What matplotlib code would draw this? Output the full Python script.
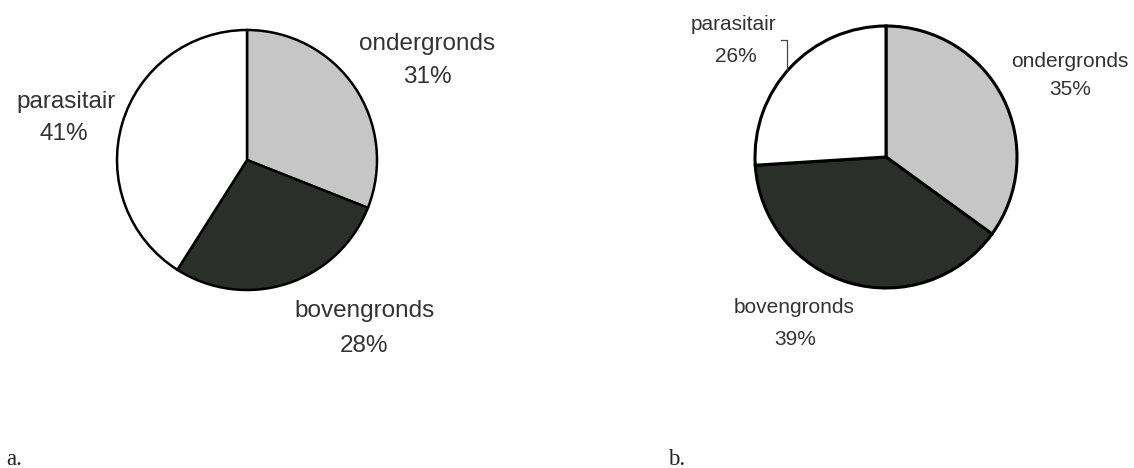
import matplotlib
matplotlib.use("Agg")
import matplotlib.pyplot as plt

# data
categories = ["ondergronds", "bovengronds", "parasitair"]
shares_a = [31, 28, 41]
shares_b = [35, 39, 26]
panel_labels = ["a.", "b."]

W, H = 1134, 468
slice_colors = ["#c6c6c6", "#2c2e2c", "#ffffff"]
text_color = "#333333"


def py(y):
    # pixel row (from top) -> data y
    return H - y


fig = plt.figure(figsize=(W / 100, H / 100), dpi=100)
ax = fig.add_axes([0, 0, 1, 1])
ax.set_xlim(0, W)
ax.set_ylim(0, H)
ax.set_aspect("equal")
ax.axis("off")

wedge_style = dict(edgecolor="black", linewidth=1.8, antialiased=True)

ax.pie(shares_a, colors=slice_colors, startangle=90, counterclock=False,
       center=(247, py(160)), radius=130, wedgeprops=wedge_style, frame=True)
ax.pie(shares_b, colors=slice_colors, startangle=90, counterclock=False,
       center=(886, py(157)), radius=131, wedgeprops=dict(wedge_style, linewidth=2.2),
       frame=True)
ax.set_xlim(0, W)
ax.set_ylim(0, H)
ax.axis("off")

# label spots: (name x, name baseline, pct x, pct baseline) in pixels
spots_a = [(427, 50, 427, 83), (365, 317, 364, 352), (66, 108, 64, 140)]
spots_b = [(1070, 67, 1070, 95), (794, 313, 795, 345), (734, 30, 736, 62)]

for shares, spots, fs in [(shares_a, spots_a, 17.5), (shares_b, spots_b, 15)]:
    for name, val, (nx, ny, vx, vy) in zip(categories, shares, spots):
        ax.text(nx, py(ny), name, ha="center", va="baseline", fontsize=fs,
                family="Liberation Sans", color=text_color)
        ax.text(vx, py(vy), f"{val}%", ha="center", va="baseline", fontsize=fs,
                family="Liberation Sans", color=text_color)

# leader line for the small parasitair label
ax.plot([781, 787, 787], [py(40), py(40), py(70)], color="#444444", linewidth=0.9)

for lab, x in zip(panel_labels, [6, 668]):
    ax.text(x, py(465), lab, ha="left", va="baseline", fontsize=16.5,
            family="Liberation Serif", color="#222222")

fig.savefig("out.png", dpi=100)
